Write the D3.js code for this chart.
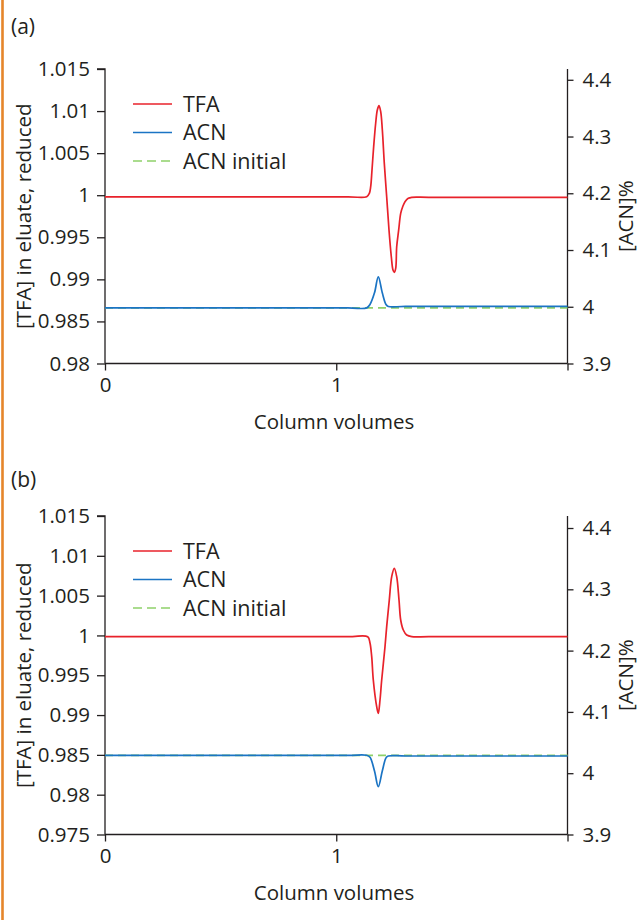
<!DOCTYPE html>
<html>
<head>
<meta charset="utf-8">
<script src="https://cdn.jsdelivr.net/npm/d3@7"></script>
<style>
  html, body { margin: 0; padding: 0; background: #fff; }
  svg { display: block; }
  text { font-family: "Open Sans", "Noto Sans", sans-serif; fill: #231f20; }
</style>
</head>
<body>
<svg id="chart" width="640" height="920"></svg>
<script>
// ---------- data ----------
const xTickValues = [0, 1, 2];
const xTickLabels = ["0", "1", ""];
const rightTicks = [3.9, 4.0, 4.1, 4.2, 4.3, 4.4];
const rightTickLabels = ["3.9", "4", "4.1", "4.2", "4.3", "4.4"];
const leftTicksA = [0.98, 0.985, 0.99, 0.995, 1.0, 1.005, 1.01, 1.015];
const leftTicksB = [0.975, 0.98, 0.985, 0.99, 0.995, 1.0, 1.005, 1.01, 1.015];
const seriesNames = ["TFA", "ACN", "ACN initial"];

// Panel (a)
const tfaA_x = [0, 1.05, 1.1317, 1.1431, 1.1489, 1.1546, 1.1618, 1.1705, 1.1776, 1.1849, 1.1922, 1.1993, 1.2078, 1.2181, 1.2281, 1.2381, 1.2454, 1.2510, 1.2571, 1.2614, 1.2700, 1.2787, 1.2873, 1.2973, 1.3116, 1.3263, 1.40, 2.0];
const tfaA_y = [0.9998, 0.9998, 0.99982, 1.00023, 1.00101, 1.0030, 1.00577, 1.00855, 1.01013, 1.01064, 1.00993, 1.00775, 1.00379, 0.99982, 0.99587, 0.99269, 0.99111, 0.99084, 0.99131, 0.99388, 0.99587, 0.99785, 0.99863, 0.99923, 0.99963, 0.99975, 0.99975, 0.99975];
const acnA_x = [0, 1.05, 1.1317, 1.1459, 1.1654, 1.1818, 1.1991, 1.2151, 1.2251, 1.30, 2.0];
const acnA_y = [3.998, 3.998, 3.998, 4.004, 4.0245, 4.0526, 4.0245, 4.004, 4.0005, 4.0005, 4.0008];
const acnInitA = 3.998;

// Panel (b)
const tfaB_x = [0, 1.05, 1.1360, 1.1459, 1.1533, 1.1602, 1.1749, 1.1818, 1.1892, 1.1965, 1.2108, 1.2181, 1.2294, 1.2398, 1.2510, 1.2614, 1.2714, 1.2787, 1.2900, 1.3047, 1.3263, 1.40, 2.0];
const tfaB_y = [0.99985, 0.99985, 0.99984, 0.99905, 0.99733, 0.99440, 0.99105, 0.99022, 0.99189, 0.99440, 0.99858, 1.00110, 1.00445, 1.00738, 1.00843, 1.00738, 1.00445, 1.00194, 1.00068, 1.00005, 0.99984, 0.99984, 0.99984];
const acnB_x = [0, 1.05, 1.1317, 1.1459, 1.1654, 1.1818, 1.1991, 1.2151, 1.2251, 1.30, 2.0];
const acnB_y = [4.0292, 4.0292, 4.0292, 4.026, 4.0036, 3.978, 4.0036, 4.025, 4.0281, 4.0281, 4.0281];
const acnInitB = 4.0292;

// ---------- drawing ----------
const svg = d3.select("#chart");
const colors = { tfa: "#e8222b", acn: "#1b74c4", init: "#8fd16a" };
const FS = 20.5;
const LFS = 21.5;

// orange margin stripe
svg.append("rect").attr("x", 1.2).attr("y", 0).attr("width", 2.6).attr("height", 920).attr("fill", "#e5852b");

function panel(opt) {
  const g = svg.append("g");
  const x = d3.scaleLinear().domain([0, 2]).range([105, 567.5]);
  const yL = d3.scaleLinear().domain(opt.leftDomain).range([opt.bottom, opt.top]);
  const yR = d3.scaleLinear().domain([3.9, opt.rightMax]).range([opt.bottom, opt.top]);

  g.append("text").attr("x", 11).attr("y", opt.letterY).attr("font-size", 21).text(opt.letter);

  const axL = g.append("g").attr("transform", `translate(105,0)`)
    .call(d3.axisLeft(yL).tickValues(opt.leftTicks).tickSize(8).tickPadding(7)
      .tickFormat(d => String(+d.toFixed(3))));
  const axR = g.append("g").attr("transform", `translate(567.5,0)`)
    .call(d3.axisRight(yR).tickValues(rightTicks).tickSize(6).tickPadding(9)
      .tickFormat((d, i) => rightTickLabels[i]));
  const axX = g.append("g").attr("transform", `translate(0,${opt.bottom})`)
    .call(d3.axisBottom(x).tickValues(xTickValues).tickSize(7).tickPadding(7)
      .tickFormat((d, i) => xTickLabels[i]));
  [axL, axR, axX].forEach(a => {
    a.select(".domain").attr("stroke", "#231f20").attr("stroke-width", 1.3);
    a.selectAll(".tick line").attr("stroke", "#231f20").attr("stroke-width", 1.3);
    a.selectAll(".tick text").attr("font-size", FS).attr("fill", "#231f20")
      .style("font-family", '"Open Sans", "Noto Sans", sans-serif');
  });
  axL.select(".domain").attr("d", `M0,${opt.bottom}V${opt.top}H-8`);
  axR.select(".domain").attr("d", `M0,${opt.bottom}V${opt.top}`);
  axX.select(".domain").attr("d", `M105,0H567.5`);

  const midY = (opt.top + opt.bottom) / 2;
  g.append("text").attr("transform", `translate(31,${midY}) rotate(-90)`)
    .attr("text-anchor", "middle").attr("font-size", FS).text("[TFA] in eluate, reduced");
  g.append("text").attr("transform", `translate(633,${midY}) rotate(-90)`)
    .attr("text-anchor", "middle").attr("font-size", FS).text("[ACN]%");
  g.append("text").attr("x", 334).attr("y", opt.bottom + 65)
    .attr("text-anchor", "middle").attr("font-size", FS).text("Column volumes");

  const curve = d3.curveCatmullRom.alpha(0.5);
  const lineL = d3.line().x(d => x(d[0])).y(d => yL(d[1])).curve(curve);
  const lineR = d3.line().x(d => x(d[0])).y(d => yR(d[1])).curve(curve);
  g.append("path").datum([[0, opt.acnInit], [2, opt.acnInit]]).attr("d", lineR)
    .attr("fill", "none").attr("stroke", colors.init).attr("stroke-width", 1.7).attr("stroke-dasharray", "8,5");
  g.append("path").datum(d3.zip(opt.acnX, opt.acnY)).attr("d", lineR)
    .attr("fill", "none").attr("stroke", colors.acn).attr("stroke-width", 1.7);
  g.append("path").datum(d3.zip(opt.tfaX, opt.tfaY)).attr("d", lineL)
    .attr("fill", "none").attr("stroke", colors.tfa).attr("stroke-width", 1.7);

  const legColors = [colors.tfa, colors.acn, colors.init];
  seriesNames.forEach((name, i) => {
    const yy = opt.legendY + i * 28.5;
    g.append("line").attr("x1", 133).attr("x2", 172).attr("y1", yy).attr("y2", yy)
      .attr("stroke", legColors[i]).attr("stroke-width", 1.7)
      .attr("stroke-dasharray", i === 2 ? "9,5" : null);
    g.append("text").attr("x", 183).attr("y", yy).attr("dy", "0.35em")
      .attr("font-size", LFS).text(name);
  });
}

panel({
  letter: "(a)", letterY: 34, top: 69, bottom: 363.5,
  leftDomain: [0.98, 1.015], leftTicks: leftTicksA, rightMax: 4.419,
  tfaX: tfaA_x, tfaY: tfaA_y, acnX: acnA_x, acnY: acnA_y, acnInit: acnInitA,
  legendY: 104
});
panel({
  letter: "(b)", letterY: 487, top: 516, bottom: 834.5,
  leftDomain: [0.975, 1.015], leftTicks: leftTicksB, rightMax: 4.4196,
  tfaX: tfaB_x, tfaY: tfaB_y, acnX: acnB_x, acnY: acnB_y, acnInit: acnInitB,
  legendY: 551
});
</script>
</body>
</html>
